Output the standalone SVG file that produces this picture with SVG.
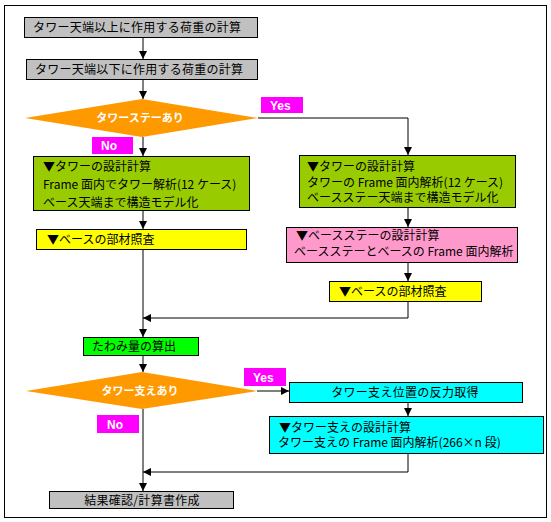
<svg xmlns="http://www.w3.org/2000/svg" width="551" height="522" viewBox="0 0 551 522">
<style>
  .box { stroke: #000; stroke-width: 1; }
  .t { font-family: "Noto Sans CJK JP", "Liberation Sans", sans-serif; font-size: 12px; fill: #000; }
  .dt { font-family: "Noto Sans CJK JP", "Liberation Sans", sans-serif; font-size: 11px; font-weight: bold; fill: #fff; }
  .lab { font-family: "Liberation Sans", "Noto Sans", sans-serif; font-size: 12px; font-weight: bold; fill: #fff; }
  .ln { stroke: #000; stroke-width: 1; fill: none; }
  .arr { marker-end: url(#ah); }
</style>
<defs>
  <marker id="ah" markerUnits="userSpaceOnUse" markerWidth="8" markerHeight="8" refX="8" refY="4" orient="auto">
    <path d="M0,0 L8,4 L0,8 z" fill="#000"/>
  </marker>
</defs>
<rect x="0" y="0" width="551" height="522" fill="#fff"/>
<rect x="4.5" y="5.5" width="542" height="512" fill="none" stroke="#000" stroke-width="1"/>

<g id="connectors">
  <line class="ln arr" x1="143" y1="37" x2="143" y2="59"/>
  <line class="ln arr" x1="143" y1="79" x2="143" y2="99"/>
  <line class="ln arr" x1="143" y1="137" x2="143" y2="156"/>
  <line class="ln arr" x1="143" y1="210" x2="143" y2="229"/>
  <line class="ln arr" x1="143" y1="249" x2="143" y2="337"/>
  <polyline class="ln arr" points="258,118 408,118 408,155"/>
  <line class="ln arr" x1="408" y1="207" x2="408" y2="227"/>
  <line class="ln arr" x1="408" y1="262" x2="408" y2="281"/>
  <polyline class="ln arr" points="408,301 408,318 143,318"/>
  <line class="ln arr" x1="143" y1="355" x2="143" y2="372"/>
  <line class="ln arr" x1="257" y1="391" x2="289" y2="391"/>
  <line class="ln arr" x1="408" y1="402" x2="408" y2="416"/>
  <line class="ln arr" x1="143" y1="409" x2="143" y2="491"/>
  <polyline class="ln arr" points="408,453 408,472 143,472"/>
</g>

<g id="n1">
  <rect class="box" x="24.5" y="17.5" width="233" height="20" fill="#C0C0C0"/>
  <text class="t" x="33" y="32" letter-spacing="0.25">タワー天端以上に作用する荷重の計算</text>
</g>
<g id="n2">
  <rect class="box" x="26.5" y="59.5" width="231" height="20" fill="#C0C0C0"/>
  <text class="t" x="35" y="74" letter-spacing="0.25">タワー天端以下に作用する荷重の計算</text>
</g>
<g id="d1">
  <polygon points="25,118 142,99 258,118 142,137" fill="#FF9900"/>
  <text class="dt" x="140" y="122" text-anchor="middle">タワーステーあり</text>
</g>
<g id="yes1">
  <rect x="261" y="97" width="42" height="16" fill="#FF00FF"/>
  <text class="lab" x="270" y="110">Yes</text>
</g>
<g id="no1">
  <rect x="92" y="137" width="41" height="17" fill="#FF00FF"/>
  <text class="lab" x="101" y="150">No</text>
</g>
<g id="n3">
  <rect class="box" x="33.5" y="156.5" width="216" height="54" fill="#99CC00"/>
  <text class="t" x="43" y="171">▼タワーの設計計算</text>
  <text class="t" x="43" y="189">Frame 面内でタワー解析(12 ケース)</text>
  <text class="t" x="43" y="207">ベース天端まで構造モデル化</text>
</g>
<g id="n4">
  <rect class="box" x="299.5" y="155.5" width="216" height="52" fill="#99CC00"/>
  <text class="t" x="307" y="171">▼タワーの設計計算</text>
  <text class="t" x="307" y="187">タワーの Frame 面内解析(12 ケース)</text>
  <text class="t" x="307" y="202">ベースステー天端まで構造モデル化</text>
</g>
<g id="n5">
  <rect class="box" x="36.5" y="229.5" width="210" height="20" fill="#FFFF00"/>
  <text class="t" x="47" y="244">▼ベースの部材照査</text>
</g>
<g id="n6">
  <rect class="box" x="286.5" y="227.5" width="231" height="35" fill="#FF99CC"/>
  <text class="t" x="296" y="240">▼ベースステーの設計計算</text>
  <text class="t" x="294" y="256">ベースステーとベースの Frame 面内解析</text>
</g>
<g id="n7">
  <rect class="box" x="329.5" y="281.5" width="152" height="20" fill="#FFFF00"/>
  <text class="t" x="339" y="296">▼ベースの部材照査</text>
</g>
<g id="n8">
  <rect class="box" x="83.5" y="337.5" width="115" height="18" fill="#00FF00"/>
  <text class="t" x="92" y="351">たわみ量の算出</text>
</g>
<g id="d2">
  <polygon points="26,391 142,372 257,391 142,409" fill="#FF9900"/>
  <text class="dt" x="140" y="395" text-anchor="middle">タワー支えあり</text>
</g>
<g id="yes2">
  <rect x="244" y="368" width="42" height="18" fill="#FF00FF"/>
  <text class="lab" x="253" y="382">Yes</text>
</g>
<g id="no2">
  <rect x="97" y="415" width="42" height="18" fill="#FF00FF"/>
  <text class="lab" x="107" y="429">No</text>
</g>
<g id="n9">
  <rect class="box" x="289.5" y="382.5" width="233" height="20" fill="#00FFFF"/>
  <text class="t" x="405" y="397" text-anchor="middle" letter-spacing="0.3">タワー支え位置の反力取得</text>
</g>
<g id="n10">
  <rect class="box" x="269.5" y="416.5" width="274" height="37" fill="#00FFFF"/>
  <text class="t" x="279" y="432">▼タワー支えの設計計算</text>
  <text class="t" x="278" y="447">タワー支えの Frame 面内解析(266×n 段)</text>
</g>
<g id="n11">
  <rect class="box" x="49.5" y="491.5" width="184" height="17" fill="#C0C0C0"/>
  <text class="t" x="142" y="505" text-anchor="middle" letter-spacing="0.3">結果確認/計算書作成</text>
</g>
</svg>
